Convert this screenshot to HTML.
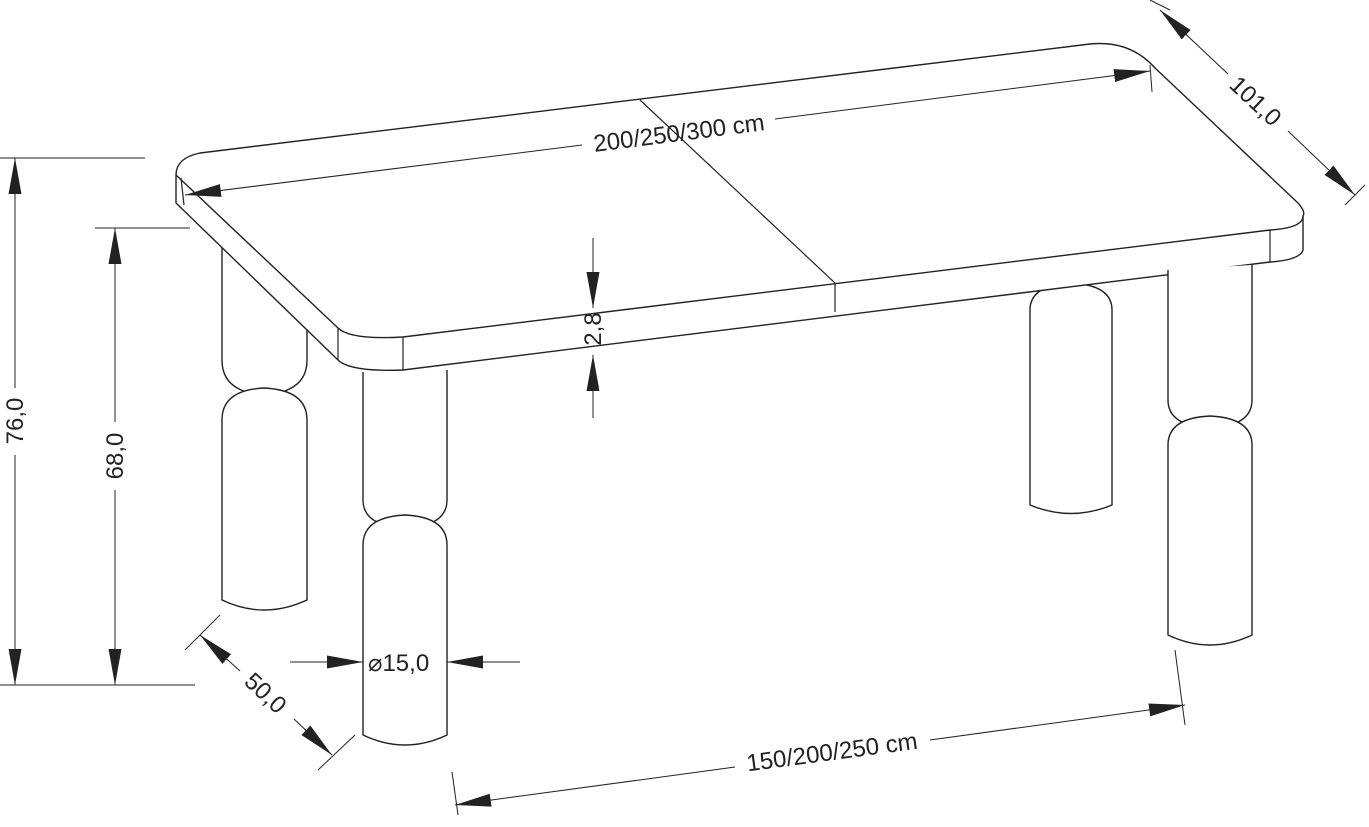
<!DOCTYPE html>
<html><head><meta charset="utf-8"><style>html,body{margin:0;padding:0;background:#fff}svg{display:block}text{font-family:"Liberation Sans",sans-serif;font-size:24px;fill:#222}</style></head>
<body>
<svg width="1369" height="827" viewBox="0 0 1369 827" xmlns="http://www.w3.org/2000/svg">
<defs>
<marker id="b" viewBox="0 0 10 10" refX="10" refY="5" markerWidth="36" markerHeight="36" markerUnits="userSpaceOnUse" orient="auto-start-reverse"><path d="M0,3.2 L10,5 L0,6.8 z" fill="#222"/></marker>
</defs>
<g fill="#fff" stroke="#222" stroke-width="1.4" stroke-linejoin="round">
<path d="M222,225 V360 Q222,392 264,395 Q307,392 307,360 V225 Z"/>
<path d="M222,420 Q222,390 264,388 Q307,390 307,420 V600 Q264,620 222,600 Z"/>
<path d="M1030,310 Q1030,285 1071,283 Q1112,285 1112,310 V505 Q1071,522 1030,505 Z"/>
<path d="M176,175 Q176,158 200,153 L1090,44 Q1130,40 1155,68 L1298,203 Q1306,212 1303,216 V250 Q1300,260 1270,262 L403,370 Q350,372 338,360 L176,203 Z"/>
<path d="M176,175 L338,328 Q350,340 403,337 L1270,230 Q1303,228 1303,216" fill="none"/>
<path d="M338,328 V360 M403,337 V370 M1270,230 V262 M181,178 L184,205 M640,100 L835,283 V312" fill="none" stroke-width="1.2"/>
<path d="M363,372 V500 Q363,526 405,528 Q447,526 447,500 V370"/>
<path d="M363,545 Q363,517 405,515 Q447,517 447,545 V735 Q405,755 363,735 Z"/>
<path d="M1168,270 V400 Q1168,426 1210,428 Q1252,426 1252,400 V265"/>
<path d="M1168,445 Q1168,418 1210,416 Q1252,418 1252,445 V635 Q1210,655 1168,635 Z"/>
</g>
<g stroke="#222" stroke-width="1" fill="none">
<line x1="0" y1="158" x2="145" y2="158"/><line x1="0" y1="685" x2="195" y2="685"/>
<line x1="95" y1="228" x2="190" y2="228"/>
<line x1="15" y1="158" x2="15" y2="388" marker-start="url(#b)"/><line x1="15" y1="455" x2="15" y2="685" marker-end="url(#b)"/>
<line x1="115" y1="228" x2="115" y2="422" marker-start="url(#b)"/><line x1="115" y1="490" x2="115" y2="685" marker-end="url(#b)"/>
<line x1="593" y1="238" x2="593" y2="308" marker-end="url(#b)"/><line x1="593" y1="418" x2="593" y2="355" marker-end="url(#b)"/>
<line x1="185" y1="195" x2="582" y2="145" marker-start="url(#b)"/><line x1="775" y1="119" x2="1150" y2="71" marker-end="url(#b)"/>
<line x1="1150" y1="65" x2="1152" y2="92"/>
<line x1="1160" y1="10" x2="1228" y2="74" marker-start="url(#b)"/><line x1="1288" y1="131" x2="1355" y2="195" marker-end="url(#b)"/>
<line x1="1150" y1="0" x2="1170" y2="10"/><line x1="1345" y1="205" x2="1365" y2="185"/>
<line x1="200" y1="635" x2="240" y2="671" marker-start="url(#b)"/><line x1="294" y1="719" x2="332" y2="755" marker-end="url(#b)"/>
<line x1="185" y1="650" x2="220" y2="615"/><line x1="318" y1="770" x2="355" y2="735"/>
<line x1="290" y1="662" x2="363" y2="662" marker-end="url(#b)"/><line x1="520" y1="662" x2="447" y2="662" marker-end="url(#b)"/>
<line x1="455" y1="805" x2="735" y2="767" marker-start="url(#b)"/><line x1="930" y1="740" x2="1185" y2="705" marker-end="url(#b)"/>
<line x1="452" y1="772" x2="458" y2="815"/><line x1="1175" y1="650" x2="1185" y2="725"/>
</g>
<text transform="translate(23,421) rotate(-90)" text-anchor="middle">76,0</text>
<text transform="translate(123,456) rotate(-90)" text-anchor="middle">68,0</text>
<text transform="translate(601,329) rotate(-90)" text-anchor="middle">2,8</text>
<text transform="translate(680,141) rotate(-7.3)" text-anchor="middle">200/250/300 cm</text>
<text transform="translate(1250,107) rotate(43)" text-anchor="middle">101,0</text>
<text transform="translate(260,699) rotate(43)" text-anchor="middle">50,0</text>
<text x="368" y="671">⌀15,0</text>
<text transform="translate(833,760) rotate(-7.6)" text-anchor="middle">150/200/250 cm</text>
</svg>
</body></html>
